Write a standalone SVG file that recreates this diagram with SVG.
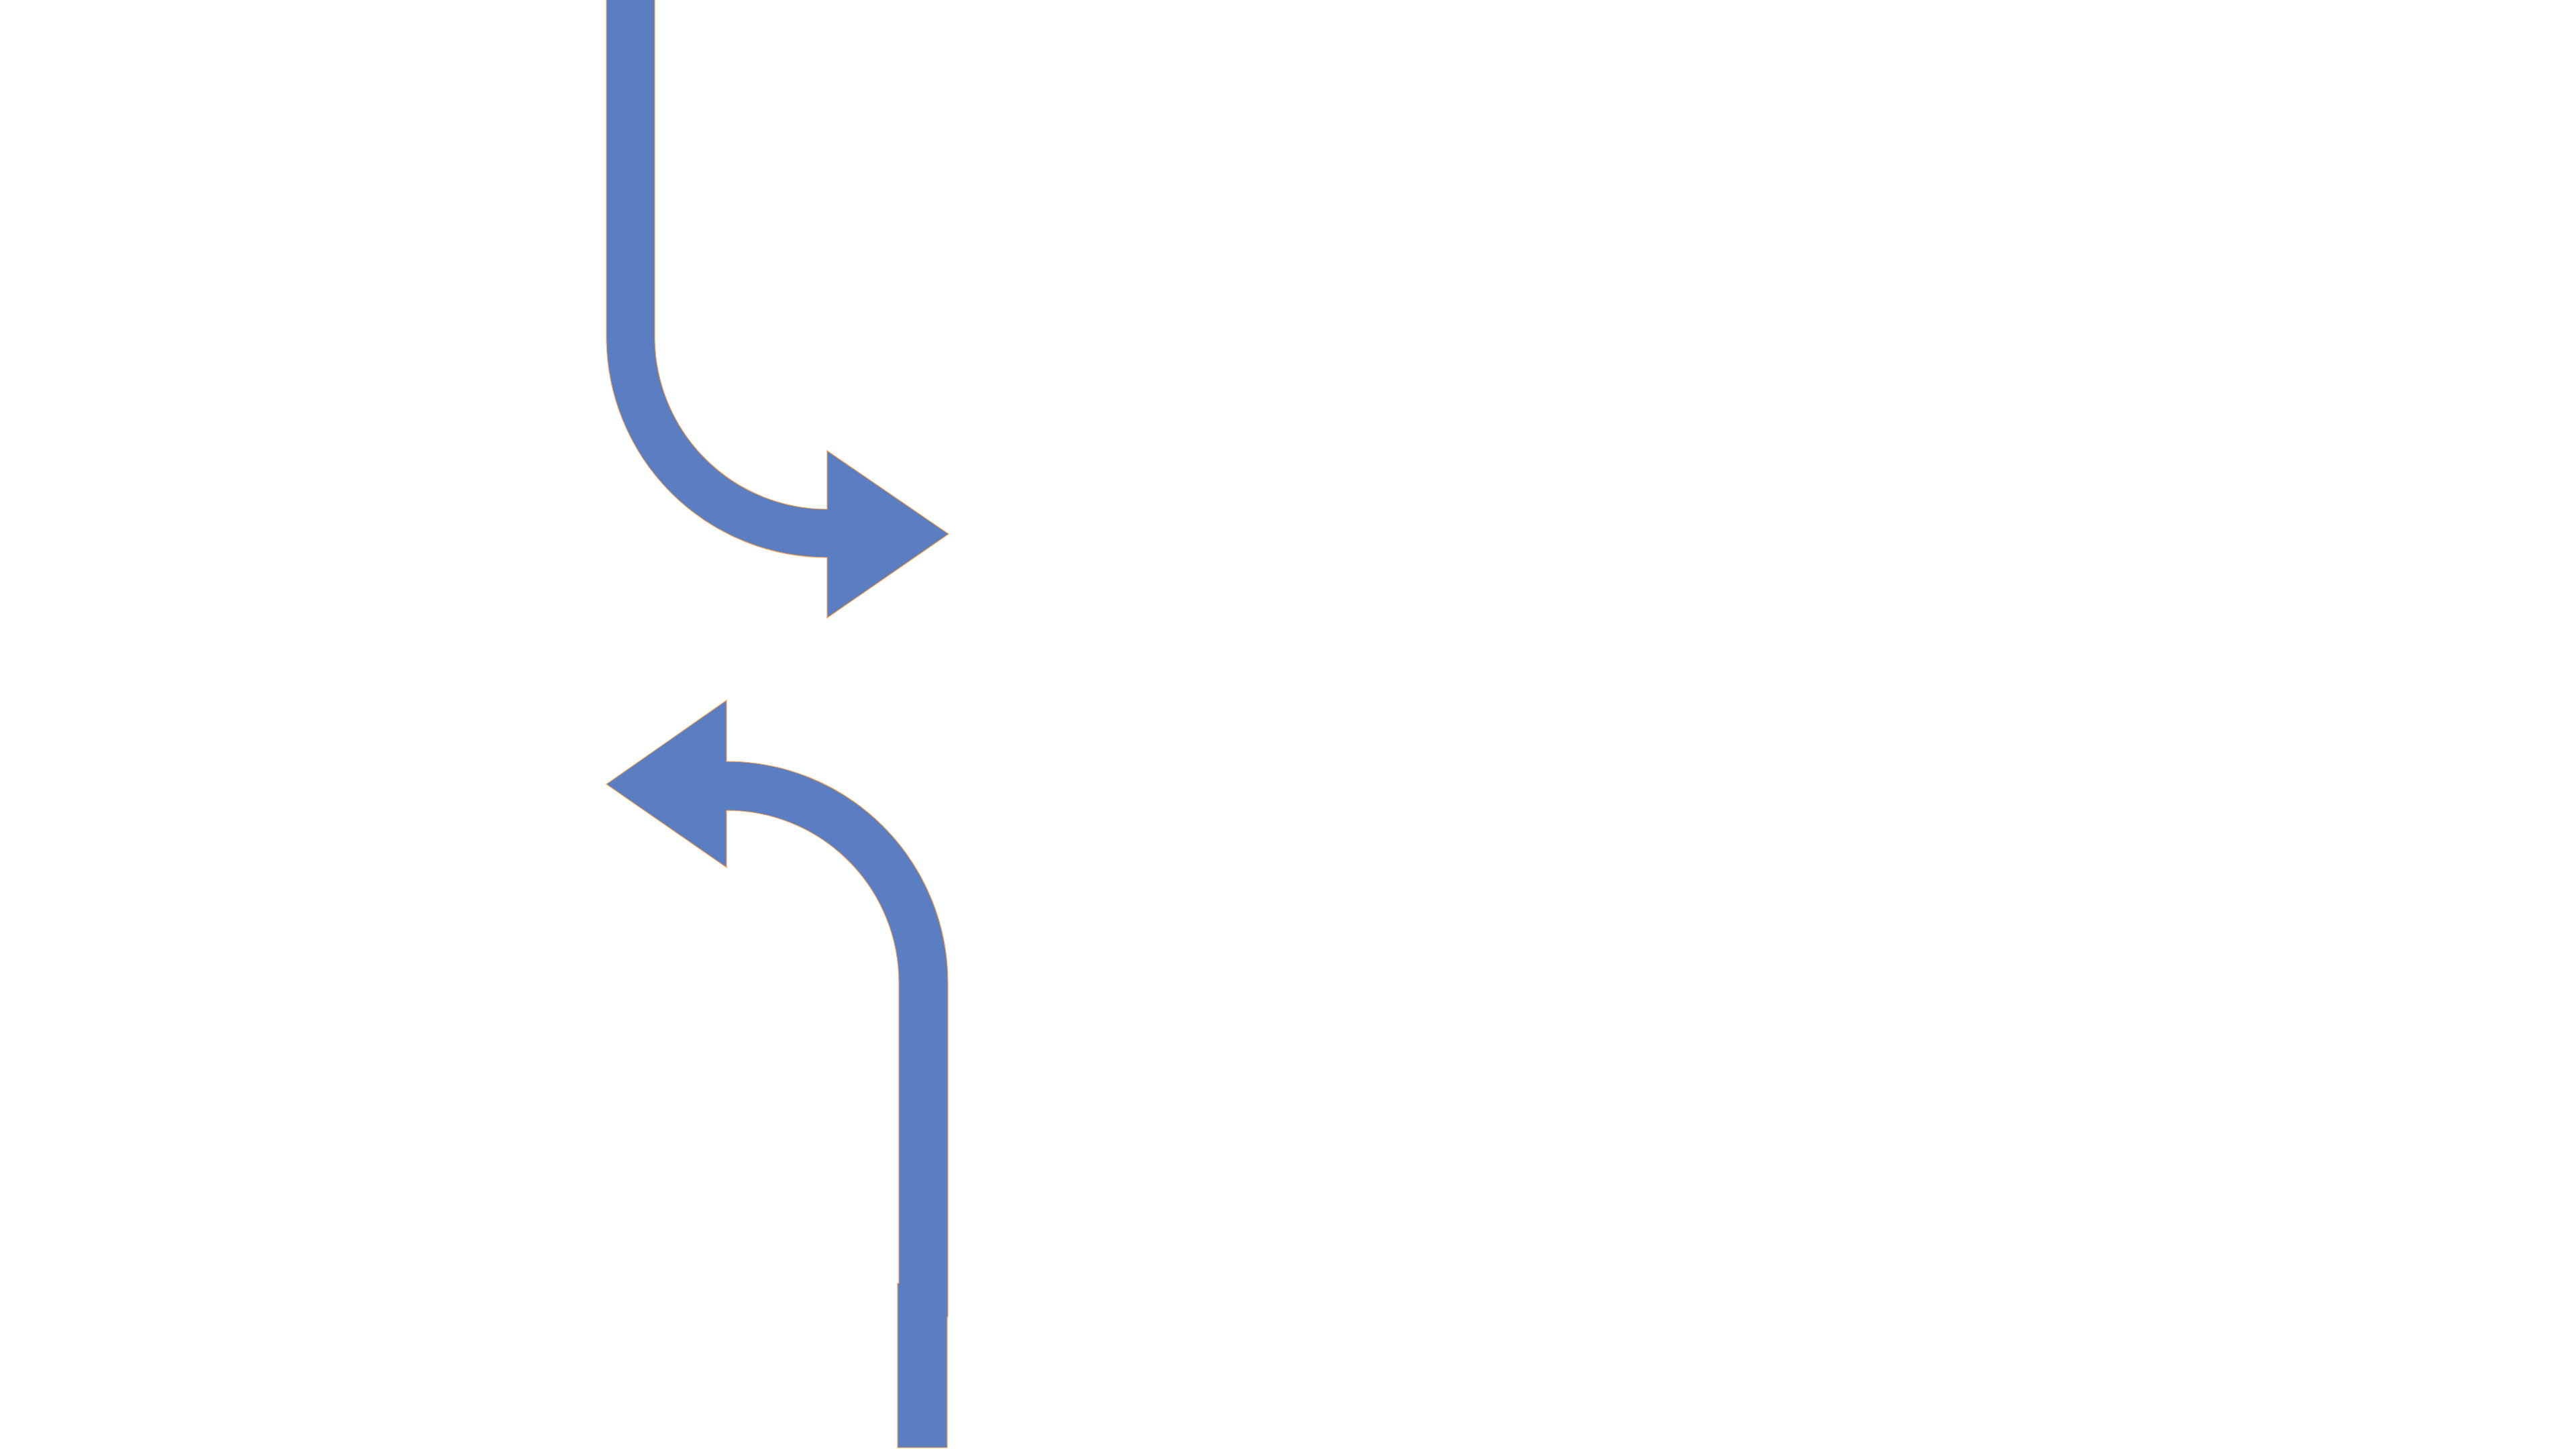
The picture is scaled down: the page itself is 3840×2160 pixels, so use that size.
<svg xmlns="http://www.w3.org/2000/svg" width="3840" height="2160" viewBox="0 0 3840 2160">
  <style>
    .bg { fill: #FFFFFF; }
    .arrow { fill: #5B7DC1; stroke: #F4A24A; stroke-width: 1.2; stroke-linejoin: miter; }
  </style>
  <rect class="bg" x="0" y="0" width="3840" height="2160"/>
  <g id="connectors">
    <path id="arrow-top" class="arrow" d="M 904 -2 L 904 502 A 329 329 0 0 0 1233 831 L 1233 921 L 1414 796 L 1233 672 L 1233 759 A 257 257 0 0 1 976 502 L 976 -2 Z"/>
    <path id="arrow-bottom" class="arrow" d="M 904 1169 L 1083 1044 L 1083 1135 A 330 330 0 0 1 1413 1465 L 1413 1963 L 1412 1963 L 1412 2158 L 1338 2158 L 1338 1913 L 1340 1913 L 1340 1465 A 257 257 0 0 0 1083 1208 L 1083 1293 Z"/>
  </g>
</svg>
